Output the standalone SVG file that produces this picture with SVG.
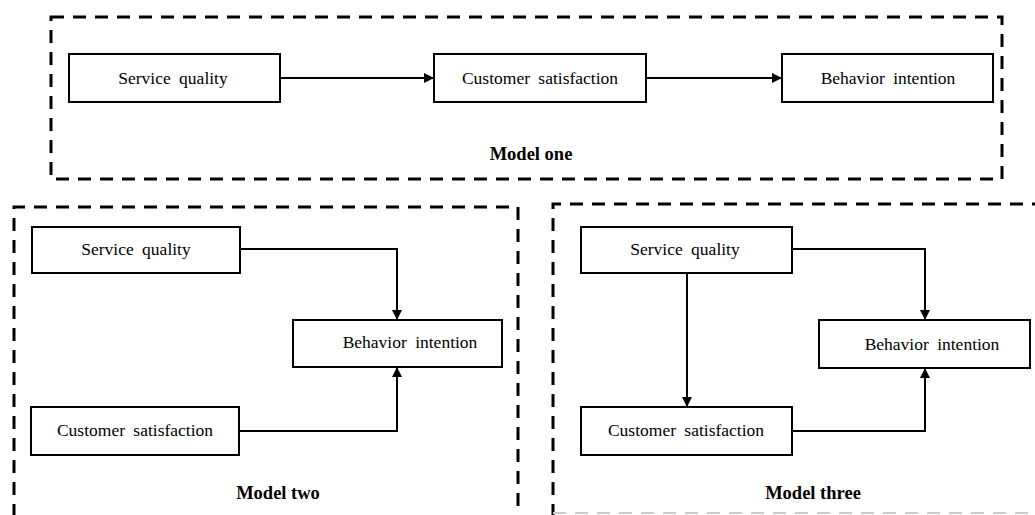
<svg xmlns="http://www.w3.org/2000/svg" width="1035" height="515" viewBox="0 0 1035 515">
<defs>
<style>
.frame{fill:none;stroke:#000;stroke-width:3;stroke-dasharray:13 9}
.box{fill:#fff;stroke:#000;stroke-width:2}
.lbl{font-family:"Liberation Serif","Times New Roman",serif;font-size:17.5px;text-anchor:middle;fill:#000;word-spacing:4px}
.title{font-family:"Liberation Serif","Times New Roman",serif;font-size:18.5px;font-weight:bold;text-anchor:middle;fill:#000}
.edge{fill:none;stroke:#000;stroke-width:2;marker-end:url(#ah)}
</style>
<marker id="ah" viewBox="0 0 10 10" refX="10" refY="5" markerWidth="5" markerHeight="5" markerUnits="strokeWidth" orient="auto">
<path d="M0,0 L10,5 L0,10 z" fill="#000"/>
</marker>
</defs>
<rect width="1035" height="515" fill="#fff"/>
<g id="frames">
<rect class="frame" x="51" y="17" width="951" height="162"/>
<path class="frame" d="M14,517 V207 H518 V517"/>
<path class="frame" d="M553,517 V204 H1035"/>
<path d="M553,513 H1035" fill="none" stroke="#ccc" stroke-width="2" stroke-dasharray="13 9"/>
</g>
<g id="connectors">
<path class="edge" d="M280,78 H434"/>
<path class="edge" d="M646,78 H782"/>
<path class="edge" d="M240,249 H397 V320"/>
<path class="edge" d="M239,431 H397 V367"/>
<path class="edge" d="M687,273 V407"/>
<path class="edge" d="M792,249 H925 V320"/>
<path class="edge" d="M792,431 H925 V368"/>
</g>
<g id="m1-service">
<rect class="box" x="69" y="54" width="211" height="48"/>
<text class="lbl" x="173" y="84">Service quality</text>
</g>
<g id="m1-satisfaction">
<rect class="box" x="434" y="54" width="212" height="48"/>
<text class="lbl" x="540" y="84">Customer satisfaction</text>
</g>
<g id="m1-behavior">
<rect class="box" x="782" y="54" width="211" height="48"/>
<text class="lbl" x="888" y="84">Behavior intention</text>
</g>
<g id="m1-title"><text class="title" x="531" y="160">Model one</text></g>
<g id="m2-service">
<rect class="box" x="32" y="227" width="208" height="46"/>
<text class="lbl" x="136" y="255">Service quality</text>
</g>
<g id="m2-behavior">
<rect class="box" x="293" y="320" width="209" height="47"/>
<text class="lbl" x="410" y="348">Behavior intention</text>
</g>
<g id="m2-satisfaction">
<rect class="box" x="31" y="407" width="208" height="48"/>
<text class="lbl" x="135" y="436">Customer satisfaction</text>
</g>
<g id="m2-title"><text class="title" x="278" y="499">Model two</text></g>
<g id="m3-service">
<rect class="box" x="581" y="227" width="211" height="46"/>
<text class="lbl" x="685" y="255">Service quality</text>
</g>
<g id="m3-behavior">
<rect class="box" x="819" y="320" width="211" height="48"/>
<text class="lbl" x="932" y="350">Behavior intention</text>
</g>
<g id="m3-satisfaction">
<rect class="box" x="581" y="407" width="211" height="48"/>
<text class="lbl" x="686" y="436">Customer satisfaction</text>
</g>
<g id="m3-title"><text class="title" x="813" y="499">Model three</text></g>
</svg>
